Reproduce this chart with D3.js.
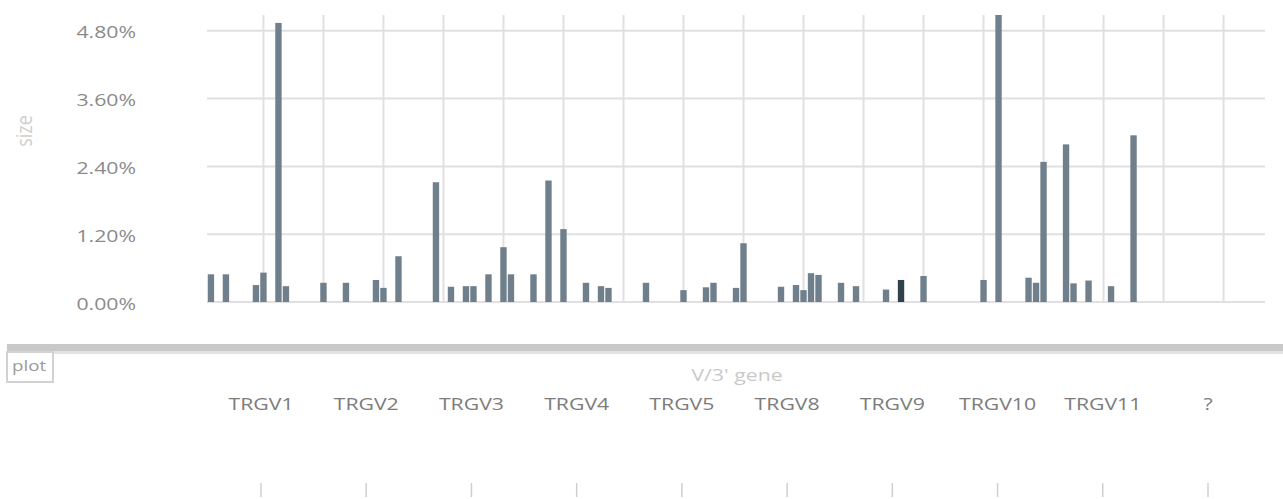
<!DOCTYPE html>
<html>
<head>
<meta charset="utf-8">
<script src="https://cdn.jsdelivr.net/npm/d3@7"></script>
<style>
  html, body { margin: 0; padding: 0; background: #fff; }
  svg { display: block; }
  text { font-family: "Open Sans", "Noto Sans", sans-serif; }
</style>
</head>
<body>
<svg id="chart" width="1283" height="499"></svg>
<script>
// V/J combination slots along the x axis (one band each)
const slotCount = 141;
// occupied slots and their clone share (%)
const barSlots  = [0, 2, 6, 7, 9, 10, 15, 18, 22, 23, 25, 30, 32, 34, 35, 37, 39, 40, 43, 45,
                   47, 50, 52, 53, 58, 63, 66, 67, 70, 71, 76, 78, 79, 80, 81, 84, 86, 90, 92, 95,
                   103, 105, 109, 110, 111, 114, 115, 117, 120, 123];
const barValues = [0.49, 0.49, 0.30, 0.52, 4.94, 0.28, 0.34, 0.34, 0.39, 0.25, 0.81, 2.12, 0.27, 0.28, 0.28, 0.49, 0.97, 0.49, 0.49, 2.15,
                   1.29, 0.34, 0.28, 0.25, 0.34, 0.21, 0.26, 0.34, 0.25, 1.04, 0.27, 0.30, 0.21, 0.51, 0.48, 0.34, 0.28, 0.22, 0.39, 0.46,
                   0.39, 5.10, 0.43, 0.34, 2.48, 2.79, 0.33, 0.38, 0.28, 2.95];
// selected clone
const selectedSlots = [92];
const yTicks = [0, 1.2, 2.4, 3.6, 4.8];
const geneLabels = ["TRGV1", "TRGV2", "TRGV3", "TRGV4", "TRGV5", "TRGV8", "TRGV9", "TRGV10", "TRGV11", "?"];

const svg = d3.select("#chart");
const STRETCH = 1.25;

const plot = { left: 207, right: 1265, top: 15, bottom: 302 };

const x = d3.scaleBand()
  .domain(d3.range(slotCount))
  .range([plot.left, plot.right])
  .paddingInner(0.15)
  .paddingOuter(0.1);

const y = d3.scaleLinear()
  .domain([0, 5.08])
  .range([plot.bottom, plot.top]);

// text drawn wide, like the rest of the page
function label(g, px, py, str, opts) {
  return g.append("text")
    .attr("transform", `translate(${px},${py}) scale(${STRETCH},1)` + (opts.rotate ? ` rotate(${opts.rotate})` : ""))
    .attr("text-anchor", opts.anchor || "middle")
    .attr("dominant-baseline", "central")
    .attr("font-size", opts.size || 17)
    .attr("fill", opts.color || "#808080")
    .text(str);
}

// grid
const grid = svg.append("g");
grid.selectAll("line.h").data(yTicks).join("line")
  .attr("x1", plot.left).attr("x2", plot.right)
  .attr("y1", d => y(d)).attr("y2", d => y(d))
  .attr("stroke", "#e0e0e3").attr("stroke-width", 2);

const gridSlots = d3.range(7, slotCount, 8);
grid.selectAll("line.v").data(gridSlots).join("line")
  .attr("x1", d => x(d) + x.bandwidth() / 2).attr("x2", d => x(d) + x.bandwidth() / 2)
  .attr("y1", plot.top).attr("y2", plot.bottom)
  .attr("stroke", "#e0e0e3").attr("stroke-width", 2);

// bars
const bars = barSlots.map((s, i) => ({ slot: s, value: barValues[i] }));
svg.append("g").selectAll("rect").data(bars).join("rect")
  .attr("x", d => x(d.slot))
  .attr("width", x.bandwidth())
  .attr("y", d => Math.max(plot.top, y(d.value)))
  .attr("height", d => plot.bottom - Math.max(plot.top, y(d.value)))
  .attr("fill", d => selectedSlots.includes(d.slot) ? "#2f4249" : "#6f7f8b");

// y axis labels
const yl = svg.append("g");
yTicks.forEach(t => label(yl, 136, y(t) + 1, t.toFixed(2) + "%", { anchor: "end", color: "#8a8a8a" }));
label(yl, 23, 131, "size", { rotate: -90, color: "#cfcfcf", size: 18 });

// divider bar under the plot
svg.append("rect").attr("x", 7).attr("y", 344).attr("width", 1276).attr("height", 7).attr("fill", "#c9c9c9");
svg.append("rect").attr("x", 7).attr("y", 351).attr("width", 1276).attr("height", 3).attr("fill", "#e2e2e2");

// "plot" tab
svg.append("rect").attr("x", 7).attr("y", 352).attr("width", 46).attr("height", 30)
  .attr("fill", "#fff").attr("stroke", "#d2d2d2").attr("stroke-width", 2);
label(svg, 29, 365, "plot", { color: "#9a9a9a", size: 15 });

// gene axis
const gx = d3.scalePoint().domain(geneLabels).range([261, 1208]);
label(svg, 737, 374, "V/3' gene", { color: "#c9c9c9", size: 17 });
const ga = svg.append("g");
geneLabels.forEach(g => label(ga, gx(g), 403, g, { color: "#7c7c7c" }));
ga.selectAll("line").data(geneLabels).join("line")
  .attr("x1", d => gx(d)).attr("x2", d => gx(d))
  .attr("y1", 483).attr("y2", 497)
  .attr("stroke", "#cfcfcf").attr("stroke-width", 1.5);
</script>
</body>
</html>
